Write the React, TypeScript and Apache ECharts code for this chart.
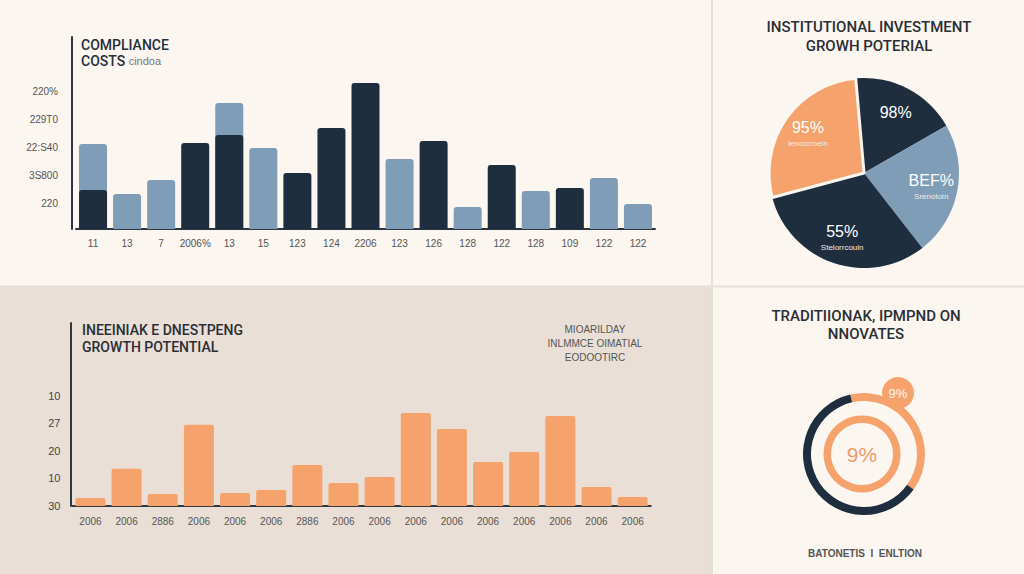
import React, { useEffect, useRef } from 'react';
import * as echarts from 'echarts';

// ---- Compliance costs (top-left) ----
const costCategories = ['11', '13', '7', '2006%', '13', '15', '123', '124', '2206', '123', '126', '128', '122', '128', '109', '122', '122'];
const costLight = [30.4, 12.5, 17.5, null, 45, 28.9, null, null, null, 25, null, 7.9, null, 13.6, null, 18.2, 8.9];
const costDark = [13.9, null, null, 30.7, 33.6, null, 20, 36.1, 52.1, null, 31.4, null, 22.9, null, 14.6, null, null];
const costTickValues = [10, 20, 30, 40, 50];
const costTickLabels = ['220', '3S800', '22:S40', '229T0', '220%'];

// ---- Growth potential (bottom-left) ----
const growthCategories = ['2006', '2006', '2886', '2006', '2006', '2006', '2886', '2006', '2006', '2006', '2006', '2006', '2006', '2006', '2006', '2006'];
const growthValues = [2.9, 13.5, 4.4, 29.5, 4.7, 5.8, 14.9, 8.4, 10.5, 33.8, 28, 16, 19.6, 32.7, 6.9, 3.3];
const growthTickValues = [0, 10, 20, 30, 40];
const growthTickLabels = ['30', '10', '20', '27', '10'];

// ---- Institutional investment pie (top-right) ----
const pieLabels = ['98%', 'BEF%', '55%', '95%'];
const pieNames = ['', 'Srenotoin', 'Stelorrcouin', 'Ienorcroein'];
const pieValues = [18.1, 22.8, 31.4, 27.8];

// ---- Traditional impact ring (bottom-right) ----
const ringNames = ['Innovates', 'Traditional'];
const ringValues = [38.5, 61.5];
const innerRingLabel = '9%';
const bubbleLabel = '9%';

const NAVY = '#1F2E3F';
const STEEL = '#7F9DB6';
const ORANGE = '#F5A26C';
const BG = '#FCF6F1';
const BG2 = '#E9DFD6';
const FONT = "'Liberation Sans', Arial, sans-serif";
const TFONT = "Roboto, 'Liberation Sans', Arial, sans-serif";

export default function App() {
  const ref = useRef<HTMLDivElement>(null);

  useEffect(() => {
    if (!ref.current) return;
    const chart = echarts.init(ref.current, null, { renderer: 'svg' });
    const pieColors = [NAVY, STEEL, NAVY, ORANGE];

    const option: any = {
      animation: false,
      backgroundColor: BG,
      textStyle: { fontFamily: FONT },
      title: [
        {
          left: 81, top: 37, padding: 0,
          text: 'COMPLIANCE\n{b|COSTS} {c|cindoa}',
          textStyle: {
            fontFamily: TFONT, fontSize: 14, fontWeight: 500, color: '#26303B', lineHeight: 16,
            rich: {
              b: { fontFamily: TFONT, fontSize: 14, fontWeight: 500, color: '#26303B', lineHeight: 16 },
              c: { fontFamily: FONT, fontSize: 11, fontWeight: 'normal', color: '#777', lineHeight: 16 },
            },
          },
        },
        {
          left: 869, top: 17, padding: 0, textAlign: 'center',
          text: 'INSTITUTIONAL INVESTMENT\nGROWH POTERIAL',
          textStyle: { fontFamily: TFONT, fontSize: 15, fontWeight: 500, color: '#2A2E35', lineHeight: 19, align: 'center' },
        },
        {
          left: 82, top: 321, padding: 0,
          text: 'INEEINIAK E DNESTPENG\nGROWTH POTENTIAL',
          textStyle: { fontFamily: TFONT, fontSize: 14, fontWeight: 500, color: '#2A2E35', lineHeight: 17 },
        },
        {
          left: 595, top: 322, padding: 0, textAlign: 'center',
          text: 'MIOARILDAY\nINLMMCE OIMATIAL\nEODOOTIRC',
          textStyle: { fontFamily: FONT, fontSize: 10, fontWeight: 'normal', color: '#555', lineHeight: 14, align: 'center' },
        },
        {
          left: 866, top: 307, padding: 0, textAlign: 'center',
          text: 'TRADITIIONAK, IPMPND ON\nNNOVATES',
          textStyle: { fontFamily: TFONT, fontSize: 15, fontWeight: 500, color: '#2A2E35', lineHeight: 18, align: 'center' },
        },
        {
          left: 865, top: 548, padding: 0, textAlign: 'center',
          text: 'BATONETIS  I  ENLTION',
          textStyle: { fontFamily: FONT, fontSize: 10, fontWeight: 'bold', color: '#555' },
        },
      ],
      grid: [
        { left: 76, right: 369, top: 37, bottom: 345 },
        { left: 72.4, right: 373.3, top: 323, bottom: 68 },
      ],
      xAxis: [
        {
          gridIndex: 0, type: 'category', data: costCategories,
          axisLine: { lineStyle: { color: '#2B3440', width: 2 } },
          axisTick: { show: false },
          axisLabel: { interval: 0, color: '#555', fontSize: 10, margin: 9, fontFamily: FONT },
        },
        {
          gridIndex: 1, type: 'category', data: growthCategories,
          axisLine: { lineStyle: { color: '#33383F', width: 2 } },
          axisTick: { show: false },
          axisLabel: { interval: 0, color: '#555', fontSize: 10, margin: 10, fontFamily: FONT },
        },
      ],
      yAxis: [
        {
          gridIndex: 0, type: 'value', min: 0, max: 68.57, interval: 10, offset: 4,
          axisLine: { show: true, lineStyle: { color: '#2B3440', width: 2 } },
          axisTick: { show: false },
          splitLine: { show: false },
          axisLabel: {
            color: '#555', fontSize: 10, margin: 14, fontFamily: FONT,
            verticalAlign: 'top', lineHeight: 6,
            formatter: (v: number) => {
              const i = costTickValues.indexOf(v);
              return i >= 0 ? costTickLabels[i] : '';
            },
          },
        },
        {
          gridIndex: 1, type: 'value', min: 0, max: 66.5, interval: 10, offset: 2,
          axisLine: { show: true, lineStyle: { color: '#33383F', width: 2 } },
          axisTick: { show: false },
          splitLine: { show: false },
          axisLabel: {
            color: '#444', fontSize: 11, margin: 10, fontFamily: FONT,
            formatter: (v: number) => {
              const i = growthTickValues.indexOf(v);
              return i >= 0 ? growthTickLabels[i] : '';
            },
          },
        },
      ],
      series: [
        {
          type: 'bar', xAxisIndex: 0, yAxisIndex: 0, data: costLight,
          barWidth: 28, barGap: '-100%',
          itemStyle: { color: STEEL, borderRadius: [3, 3, 0, 0] },
        },
        {
          type: 'bar', xAxisIndex: 0, yAxisIndex: 0, data: costDark,
          barWidth: 28, barGap: '-100%',
          itemStyle: { color: NAVY, borderRadius: [3, 3, 0, 0] },
        },
        {
          type: 'bar', xAxisIndex: 1, yAxisIndex: 1, data: growthValues,
          barWidth: 30,
          itemStyle: { color: ORANGE, borderRadius: [2, 2, 0, 0] },
        },
        {
          type: 'pie', center: [864, 173], radius: 95, startAngle: 95, clockwise: true,
          silent: true,
          label: { show: false }, labelLine: { show: false },
          data: pieValues.map((v, i) => ({
            value: v, name: pieNames[i] || pieLabels[i],
            itemStyle: i === 3
              ? { color: pieColors[i], borderColor: BG, borderWidth: 3 }
              : { color: pieColors[i] },
          })),
        },
        {
          type: 'pie', center: [864, 173], radius: [36, 95], startAngle: 95, clockwise: true,
          silent: true, z: 5,
          itemStyle: { color: 'transparent' },
          labelLine: { show: false },
          label: {
            show: true, position: 'inside',
            formatter: (p: any) => {
              const i = p.dataIndex;
              return pieNames[i] ? `{v|${pieLabels[i]}}\n{n|${pieNames[i]}}` : `{v|${pieLabels[i]}}`;
            },
            rich: {
              v: { fontFamily: FONT, fontSize: 16, color: '#FFFFFF', lineHeight: 20, align: 'center' },
              n: { fontFamily: FONT, fontSize: 8, color: '#F2ECE6', lineHeight: 12, align: 'center' },
            },
          },
          data: pieValues.map((v, i) => ({ value: v, name: pieNames[i] || pieLabels[i] })),
        },
        {
          type: 'pie', center: [864, 454], radius: [53, 61], startAngle: 103, clockwise: true,
          silent: true,
          label: { show: false }, labelLine: { show: false },
          data: ringValues.map((v, i) => ({ value: v, name: ringNames[i], itemStyle: { color: i === 0 ? ORANGE : NAVY } })),
        },
        {
          type: 'pie', center: [862, 454], radius: [31, 38.5],
          silent: true,
          labelLine: { show: false },
          label: {
            show: true, position: 'center', formatter: innerRingLabel,
            fontFamily: FONT, fontSize: 21, color: '#EE9C68',
          },
          data: [{ value: 100, name: 'inner', itemStyle: { color: ORANGE } }],
        },
      ],
      graphic: [
        { type: 'rect', z: -10, shape: { x: 0, y: 287, width: 711, height: 287 }, style: { fill: BG2 } },
        { type: 'line', z: -9, shape: { x1: 712, y1: 0, x2: 712, y2: 574 }, style: { stroke: '#E6DFD9', lineWidth: 2 } },
        { type: 'line', z: -9, shape: { x1: 0, y1: 286.5, x2: 1024, y2: 286.5 }, style: { stroke: '#E6DFD9', lineWidth: 2 } },
        {
          type: 'group', z: 10,
          children: [
            { type: 'circle', shape: { cx: 898, cy: 393, r: 16 }, style: { fill: ORANGE } },
            {
              type: 'text', x: 898, y: 393,
              style: { text: bubbleLabel, fill: '#FFF6EE', fontSize: 13, fontFamily: FONT, align: 'center', verticalAlign: 'middle' },
            },
          ],
        },
      ],
    };

    chart.setOption(option);
    return () => chart.dispose();
  }, []);

  return <div ref={ref} style={{ position: 'fixed', left: 0, top: 0, width: 1024, height: 574 }} />;
}
